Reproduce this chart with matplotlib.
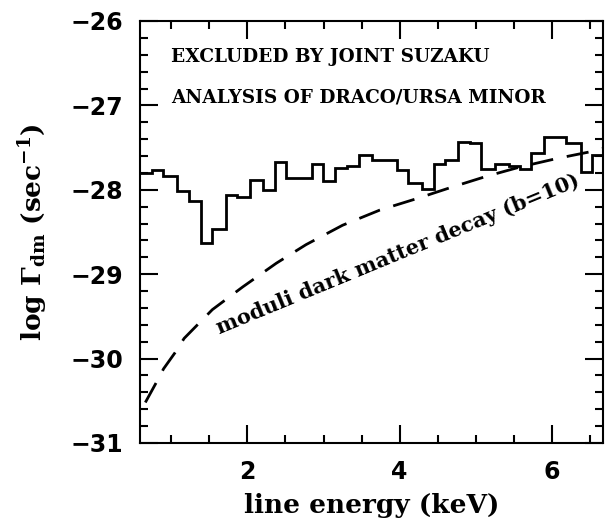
import matplotlib
matplotlib.use('Agg')
import matplotlib.pyplot as plt

plt.rcParams['mathtext.fontset'] = 'custom'
plt.rcParams['mathtext.rm'] = 'DejaVu Serif:bold'
plt.rcParams['mathtext.it'] = 'DejaVu Serif:bold'
plt.rcParams['mathtext.bf'] = 'DejaVu Serif:bold'

# excluded region: step histogram (bin edges in keV, log rate per bin)
bin_edges = [0.59, 0.754, 0.895, 1.07, 1.24, 1.39, 1.54, 1.72, 1.87, 2.04,
             2.2, 2.36, 2.51, 2.85, 2.99, 3.15, 3.31, 3.47, 3.63, 3.80,
             3.96, 4.11, 4.29, 4.45, 4.59, 4.77, 4.92, 5.07, 5.25, 5.43,
             5.58, 5.73, 5.89, 6.04, 6.19, 6.38, 6.52, 6.67]
log_rate = [-27.80, -27.77, -27.84, -28.02, -28.13, -28.63, -28.47, -28.06,
            -28.09, -27.88, -28.00, -27.67, -27.86, -27.70, -27.90, -27.74,
            -27.72, -27.59, -27.65, -27.65, -27.77, -27.92, -27.99, -27.69,
            -27.65, -27.43, -27.45, -27.75, -27.69, -27.72, -27.75, -27.56,
            -27.37, -27.38, -27.44, -27.79, -27.59]

# moduli decay curve (b=10)
moduli_e = [0.66, 0.80, 0.90, 1.05, 1.17, 1.54, 1.94, 2.38, 2.77, 3.25,
            3.74, 4.24, 4.68, 5.14, 5.58, 6.06, 6.50, 6.67]
moduli_rate = [-30.52, -30.29, -30.12, -29.93, -29.76, -29.42, -29.15, -28.87,
               -28.65, -28.42, -28.24, -28.10, -27.97, -27.84, -27.73, -27.63,
               -27.55, -27.51]

fig = plt.figure(figsize=(6.05, 5.25), dpi=100)
ax = fig.add_axes([0.2314, 0.1562, 0.7653, 0.8038])

ax.stairs(log_rate, bin_edges, baseline=None, color='black', lw=2)
ax.plot(moduli_e, moduli_rate, color='black', lw=2, dashes=(8, 5))

ax.set_xlim(0.59, 6.67)
ax.set_ylim(-31, -26)

ax.set_xticks([2, 4, 6])
ax.set_xticks([x * 0.5 for x in range(2, 14)], minor=True)
ax.set_yticks([-31, -30, -29, -28, -27, -26])
ax.set_yticks([-31 + 0.2 * i for i in range(26)], minor=True)
ax.set_yticklabels(['\u221231', '\u221230', '\u221229', '\u221228', '\u221227', '\u221226'])

ax.tick_params(which='both', direction='in', top=True, right=True, width=1.5)
ax.tick_params(which='major', length=13, labelsize=17, pad=12)
ax.tick_params(which='minor', length=6)
for lab in ax.get_xticklabels() + ax.get_yticklabels():
    lab.set_fontweight('bold')
for s in ax.spines.values():
    s.set_linewidth(1.5)

ax.set_xlabel('line energy (keV)', family='DejaVu Serif', fontweight='bold',
              fontsize=19, labelpad=7)
ax.set_ylabel(r'log $\Gamma_{\rm dm}$ (sec$^{-1}$)', family='DejaVu Serif',
              fontweight='bold', fontsize=19, labelpad=15)

ax.text(1.0, -26.43, 'EXCLUDED BY JOINT SUZAKU', family='DejaVu Serif',
        fontweight='bold', fontsize=13.3, va='center', ha='left')
ax.text(1.0, -26.91, 'ANALYSIS OF DRACO/URSA MINOR', family='DejaVu Serif',
        fontweight='bold', fontsize=13.3, va='center', ha='left')
ax.text(3.98, -28.76, 'moduli dark matter decay (b=10)', family='DejaVu Serif',
        fontweight='bold', fontsize=15, rotation=22.4, rotation_mode='anchor',
        ha='center', va='center')

fig.savefig('out.png', dpi=100)
